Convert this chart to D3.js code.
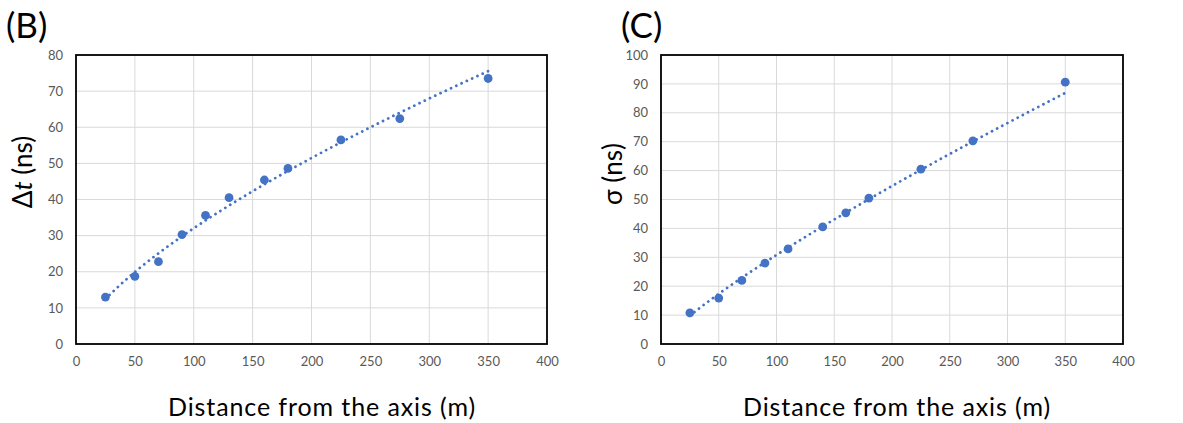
<!DOCTYPE html>
<html>
<head>
<meta charset="utf-8">
<script src="https://cdn.jsdelivr.net/npm/d3@7"></script>
<style>
  body { margin: 0; background: #fff; }
  text { font-family: Lato, "Open Sans", sans-serif; }
</style>
</head>
<body>
<div id="vis"></div>
<script>
// values
var xTicks = [0, 50, 100, 150, 200, 250, 300, 350, 400];
var yTicksB = [0, 10, 20, 30, 40, 50, 60, 70, 80];
var yTicksC = [0, 10, 20, 30, 40, 50, 60, 70, 80, 90, 100];

var distB = [25, 50, 70, 90, 110, 130, 160, 180, 225, 275, 350];
var deltaT = [13, 18.7, 22.8, 30.3, 35.6, 40.5, 45.4, 48.6, 56.5, 62.4, 73.5];

var distC = [25, 50, 70, 90, 110, 140, 160, 180, 225, 270, 350];
var sigma = [10.8, 15.9, 22, 28, 32.9, 40.5, 45.4, 50.5, 60.5, 70.3, 90.6];

var W = 1183, H = 423;
var svg = d3.select("#vis").append("svg")
    .attr("width", W)
    .attr("height", H);

svg.append("rect").attr("width", W).attr("height", H).attr("fill", "#fff");

// excel style power trendline: ln y = ln a + b ln x
function powerFit(xs, ys) {
  var lx = xs.map(Math.log), ly = ys.map(Math.log);
  var mx = d3.mean(lx), my = d3.mean(ly);
  var sxy = d3.sum(lx, function(d, i) { return (d - mx) * (ly[i] - my); });
  var sxx = d3.sum(lx, function(d) { return (d - mx) * (d - mx); });
  var b = sxy / sxx;
  var a = Math.exp(my - b * mx);
  return function(x) { return a * Math.pow(x, b); };
}

function drawPanel(o) {
  var g = svg.append("g");
  var x = d3.scaleLinear().domain([0, 400]).range([o.left, o.right]);
  var y = d3.scaleLinear().domain([0, o.ymax]).range([o.bottom, o.top]);

  // grid
  g.selectAll(".vgrid").data(xTicks.slice(1, -1)).enter().append("line")
    .attr("x1", function(d) { return x(d); }).attr("x2", function(d) { return x(d); })
    .attr("y1", o.top).attr("y2", o.bottom)
    .attr("stroke", "#d9d9d9").attr("stroke-width", 1);
  g.selectAll(".hgrid").data(o.yTicks.slice(1, -1)).enter().append("line")
    .attr("x1", o.left).attr("x2", o.right)
    .attr("y1", function(d) { return y(d); }).attr("y2", function(d) { return y(d); })
    .attr("stroke", "#d9d9d9").attr("stroke-width", 1);

  // frame
  g.append("rect")
    .attr("x", o.left).attr("y", o.top)
    .attr("width", o.right - o.left).attr("height", o.bottom - o.top)
    .attr("fill", "none").attr("stroke", "#000").attr("stroke-width", 1.8);

  // axes labels via d3 axes
  var xAxis = g.append("g")
    .attr("transform", "translate(0," + o.bottom + ")")
    .call(d3.axisBottom(x).tickValues(xTicks).tickSize(0).tickPadding(13));
  var yAxis = g.append("g")
    .attr("transform", "translate(" + o.left + ",0)")
    .call(d3.axisLeft(y).tickValues(o.yTicks).tickSize(0).tickPadding(13));
  [xAxis, yAxis].forEach(function(a) {
    a.select(".domain").remove();
    a.selectAll("text")
      .attr("fill", "#595959")
      .style("font-size", "13px")
      .style("font-family", "Lato, 'Open Sans', sans-serif");
  });

  // trendline
  var f = powerFit(o.xs, o.ys);
  var x0 = d3.min(o.xs), x1 = d3.max(o.xs);
  var pts = d3.range(0, 101).map(function(i) { var v = x0 + (x1 - x0) * i / 100; return [v, f(v)]; });
  g.append("path")
    .datum(pts)
    .attr("d", d3.line().x(function(d) { return x(d[0]); }).y(function(d) { return y(d[1]); }))
    .attr("fill", "none")
    .attr("stroke", "#4472c4")
    .attr("stroke-width", 2.8)
    .attr("stroke-linecap", "round")
    .attr("stroke-dasharray", "0.01 5.8");

  // points
  g.selectAll(".pt").data(o.xs).enter().append("circle")
    .attr("cx", function(d) { return x(d); })
    .attr("cy", function(d, i) { return y(o.ys[i]); })
    .attr("r", 4.4)
    .attr("fill", "#4472c4");

  // titles
  g.append("text")
    .attr("x", o.titleX).attr("y", 416)
    .attr("text-anchor", "middle")
    .style("font-size", "25px")
    .style("letter-spacing", "0.9px")
    .attr("fill", "#000")
    .text("Distance from the axis (m)");

  g.append("text")
    .attr("x", o.panelX).attr("y", 38)
    .style("font-size", "35px")
    .attr("fill", "#000")
    .text(o.panel);

  var yt = g.append("text")
    .attr("transform", "translate(" + o.ylabX + "," + o.ylabY + ") rotate(-90)")
    .attr("text-anchor", "middle")
    .style("font-size", "26px")
    .attr("fill", "#000");
  o.ylab(yt);
}

drawPanel({
  left: 76, right: 547, top: 55, bottom: 344,
  ymax: 80, yTicks: yTicksB, xs: distB, ys: deltaT,
  titleX: 322, panelX: 6, panel: "(B)",
  ylabX: 32, ylabY: 172,
  ylab: function(t) {
    t.append("tspan").text("\u0394");
    t.append("tspan").attr("font-style", "italic").text("t");
    t.append("tspan").text(" (ns)");
  }
});

drawPanel({
  left: 661, right: 1123, top: 55, bottom: 344,
  ymax: 100, yTicks: yTicksC, xs: distC, ys: sigma,
  titleX: 897, panelX: 621, panel: "(C)",
  ylabX: 622, ylabY: 174,
  ylab: function(t) { t.text("\u03c3 (ns)"); }
});
</script>
</body>
</html>
